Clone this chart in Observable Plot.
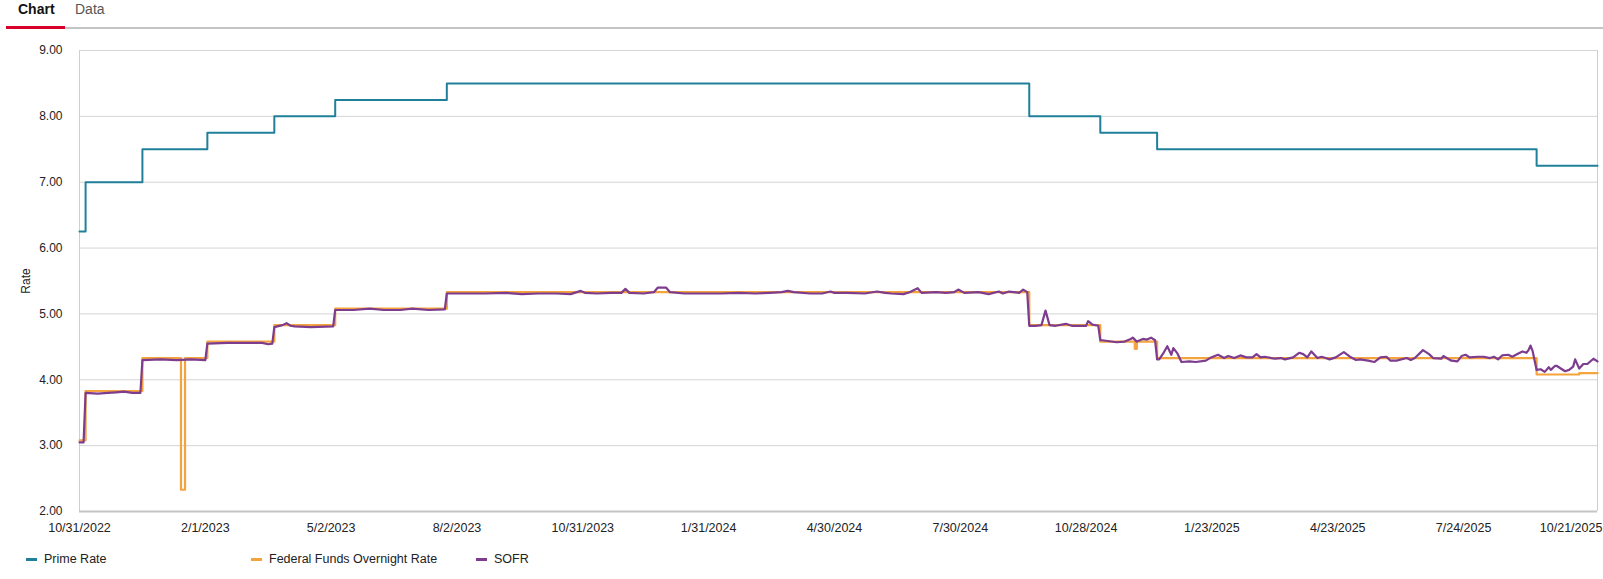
<!DOCTYPE html>
<html><head><meta charset="utf-8">
<script src="https://cdn.jsdelivr.net/npm/d3@7"></script>
<script src="https://cdn.jsdelivr.net/npm/@observablehq/plot@0.6"></script>
<style>
body{margin:0;background:#fff;font-family:"Liberation Sans",Arial,sans-serif;}
#wrap{position:relative;width:1603px;height:579px;overflow:hidden;background:#fff;}
.tab{position:absolute;top:1px;font-size:14px;line-height:16px;}
#chartTab{left:18px;font-weight:bold;color:#111;}
#dataTab{left:75px;color:#555;}
#redbar{position:absolute;left:6px;top:26px;width:59px;height:3px;background:#d6002a;}
#graybar{position:absolute;left:65px;top:27px;width:1538px;height:2px;background:#c4c4c4;}
#plot{position:absolute;left:0;top:0;}
.leg{position:absolute;top:551px;font-size:12.5px;line-height:16px;color:#222;white-space:nowrap;}
.sw{position:absolute;top:7px;left:0;width:11px;height:3px;}
.lt{position:absolute;left:18px;top:0;}
</style></head>
<body><div id="wrap">
<div class="tab" id="chartTab">Chart</div>
<div class="tab" id="dataTab">Data</div>
<div id="redbar"></div><div id="graybar"></div>
<div id="plot"></div>
<div id="legend"></div>
</div>
<script>
// x axis: daily observation index; tick labels every 62 observations
const tickLabels = ["10/31/2022","2/1/2023","5/2/2023","8/2/2023","10/31/2023","1/31/2024","4/30/2024","7/30/2024","10/28/2024","1/23/2025","4/23/2025","7/24/2025","10/21/2025"];
const tickStep = 62;
const lastIndex = 748;
const yTicks = [2, 3, 4, 5, 6, 7, 8, 9];

const seriesNames = ["Prime Rate", "Federal Funds Overnight Rate", "SOFR"];
const seriesColors = ["#20809a", "#f5a33d", "#7d3c8e"];

// Prime Rate (value from the given observation onward)
const primeIdx = [0, 3, 31, 63, 96, 126, 181, 468, 503, 531, 718, 748];
const primeVal = [6.25, 7.00, 7.50, 7.75, 8.00, 8.25, 8.50, 8.00, 7.75, 7.50, 7.25, 7.25];

// Federal Funds Overnight Rate (value from the given observation onward)
const fedIdx = [0, 3, 31, 50, 52, 63, 96, 126, 181, 468, 503, 520, 521, 531, 718, 739, 748];
const fedVal = [3.08, 3.83, 4.33, 2.33, 4.33, 4.58, 4.83, 5.08, 5.33, 4.83, 4.58, 4.47, 4.58, 4.33, 4.08, 4.10, 4.10];

// SOFR
const sofrIdx = [0,2,3,9,14,18,22,26,30,31,40,48,55,62,63,73,82,90,93,95,96,100,102,104,106,114,125,126,135,143,150,158,164,172,180,181,190,200,210,218,226,235,242,247,249,255,262,267,269,271,278,283,285,289,291,298,308,316,325,333,340,346,349,352,360,366,370,372,378,387,393,397,400,406,409,413,415,422,427,431,433,436,443,448,453,455,458,463,465,466,467,468,471,474,476,478,481,486,489,496,497,499,502,503,504,511,515,518,519,521,524,526,528,530,531,532,534,536,538,539,541,543,547,550,555,557,561,564,566,569,572,575,578,580,582,584,589,592,594,598,601,603,605,607,610,612,614,616,619,623,626,629,631,635,638,641,644,646,649,654,656,658,661,662,665,667,671,672,676,679,681,683,685,689,692,695,697,699,701,704,706,709,711,713,714,715,716,718,720,722,724,725,727,728,732,734,736,737,739,741,743,746,748];
const sofrVal = [3.05,3.05,3.80,3.79,3.80,3.81,3.82,3.80,3.80,4.30,4.31,4.30,4.31,4.30,4.55,4.56,4.56,4.56,4.54,4.55,4.80,4.83,4.86,4.82,4.81,4.80,4.81,5.06,5.06,5.08,5.06,5.06,5.08,5.06,5.07,5.31,5.31,5.31,5.32,5.30,5.31,5.31,5.30,5.35,5.32,5.31,5.32,5.32,5.38,5.32,5.31,5.33,5.40,5.40,5.33,5.31,5.31,5.31,5.32,5.31,5.32,5.33,5.35,5.33,5.31,5.31,5.34,5.32,5.32,5.31,5.34,5.32,5.31,5.30,5.33,5.39,5.32,5.33,5.32,5.33,5.37,5.32,5.33,5.30,5.34,5.31,5.34,5.32,5.37,5.35,5.33,4.82,4.82,4.83,5.05,4.83,4.82,4.85,4.82,4.82,4.89,4.84,4.82,4.60,4.60,4.57,4.58,4.62,4.64,4.58,4.62,4.61,4.64,4.60,4.31,4.31,4.40,4.51,4.38,4.48,4.40,4.27,4.28,4.27,4.29,4.33,4.38,4.33,4.36,4.33,4.37,4.34,4.34,4.39,4.34,4.35,4.32,4.33,4.31,4.34,4.41,4.39,4.34,4.43,4.33,4.35,4.33,4.31,4.34,4.42,4.35,4.30,4.31,4.29,4.27,4.34,4.35,4.29,4.29,4.33,4.30,4.33,4.42,4.45,4.39,4.33,4.32,4.36,4.29,4.28,4.36,4.38,4.34,4.35,4.35,4.33,4.35,4.31,4.37,4.38,4.35,4.40,4.43,4.41,4.45,4.52,4.44,4.15,4.16,4.12,4.19,4.15,4.21,4.21,4.13,4.15,4.20,4.31,4.17,4.24,4.24,4.32,4.28];

const toRows = (idx, val) => idx.map((i, k) => ({i, v: val[k]}));
const prime = toRows(primeIdx, primeVal);
const fed = toRows(fedIdx, fedVal);
const sofr = toRows(sofrIdx, sofrVal);
const tickIdx = tickLabels.map((_, k) => k * tickStep);
const fmtTick = i => tickLabels[Math.round(i / tickStep)];

const font = '"Liberation Sans", Arial, sans-serif';
const chart = Plot.plot({
  width: 1603, height: 541,
  marginTop: 50, marginBottom: 30, marginLeft: 79, marginRight: 6,
  style: {fontFamily: font, fontSize: "12px", color: "#222", background: "transparent", overflow: "visible"},
  x: {domain: [0, lastIndex]},
  y: {domain: [2, 9]},
  marks: [
    Plot.gridY(yTicks, {stroke: "#d4d4d4", strokeOpacity: 1}),
    Plot.ruleX([0, lastIndex], {stroke: "#cfcfcf", strokeWidth: 1}),
    Plot.ruleY([2], {stroke: "#c4c4c4", strokeWidth: 2}),
    Plot.axisY(yTicks, {tickSize: 0, tickPadding: 17, tickFormat: d => d.toFixed(2), label: "Rate", labelAnchor: "center", labelArrow: "none", labelOffset: 58, fontSize: 12}),
    Plot.axisX(tickIdx.slice(0, -1), {tickSize: 0, tickPadding: 12, tickFormat: fmtTick, label: null, fontSize: 12.5}),
    Plot.axisX(tickIdx.slice(-1), {tickSize: 0, tickPadding: 12, tickFormat: fmtTick, label: null, fontSize: 12.5, textAnchor: "end", dx: 13}),
    Plot.line(prime, {x: "i", y: "v", curve: "step-after", stroke: seriesColors[0], strokeWidth: 2}),
    Plot.line(fed, {x: "i", y: "v", curve: "step-after", stroke: seriesColors[1], strokeWidth: 2.2}),
    Plot.line(sofr, {x: "i", y: "v", stroke: seriesColors[2], strokeWidth: 2.2})
  ]
});
document.getElementById("plot").appendChild(chart);

const legendX = [26, 251, 476];
const legend = document.getElementById("legend");
seriesNames.forEach((name, k) => {
  const d = document.createElement("div");
  d.className = "leg";
  d.style.left = legendX[k] + "px";
  d.innerHTML = `<span class="sw" style="background:${seriesColors[k]}"></span><span class="lt">${name}</span>`;
  legend.appendChild(d);
});
</script>
</body></html>
